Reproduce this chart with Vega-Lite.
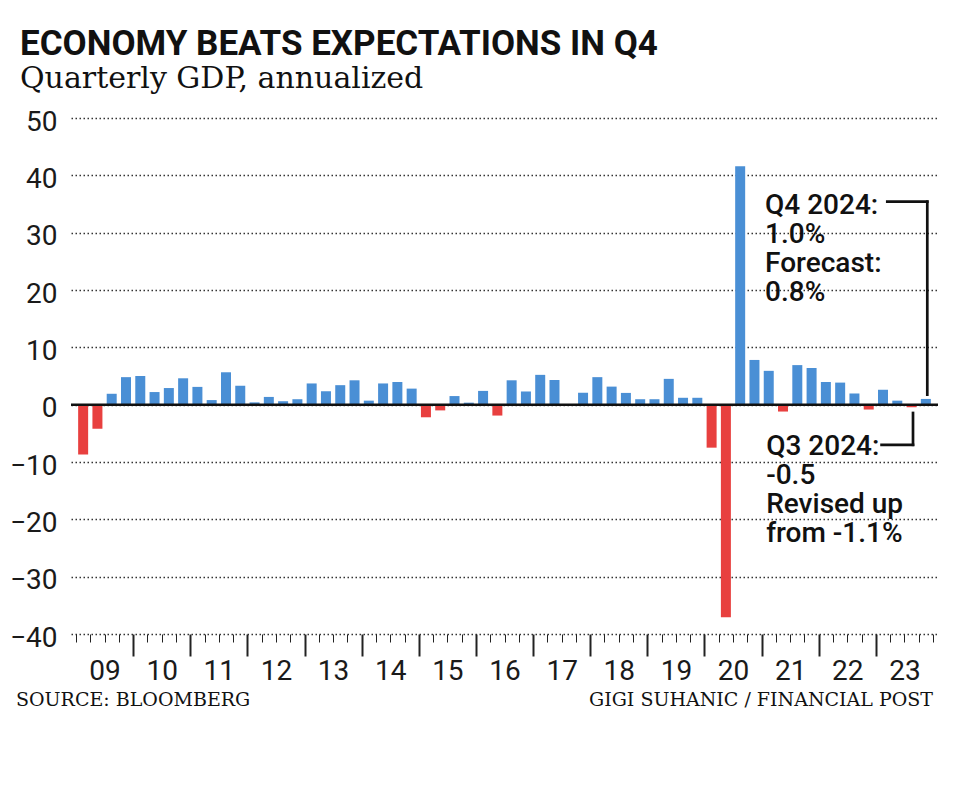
{
  "$schema": "https://vega.github.io/schema/vega-lite/v6.json",
  "width": 867,
  "height": 516,
  "autosize": {"type": "none"},
  "padding": {"left": 71, "top": 118, "right": 22, "bottom": 168},
  "background": "white",
  "title": {
    "text": "ECONOMY BEATS EXPECTATIONS IN Q4",
    "subtitle": "Quarterly GDP, annualized",
    "anchor": "start",
    "frame": "group",
    "dx": -51,
    "offset": 14,
    "font": "Roboto",
    "fontSize": 35,
    "fontWeight": "bold",
    "color": "#111111",
    "subtitleFont": "DejaVu Serif",
    "subtitleFontSize": 30,
    "subtitleColor": "#111111",
    "subtitlePadding": 2
  },
  "config": {"view": {"stroke": null}},
  "resolve": {"axis": {"x": "independent", "y": "independent"}},
  "datasets": {
    "gdp": [
      {"year": 2009, "q": 1, "t": 2009.125, "gdp": -8.7},
      {"year": 2009, "q": 2, "t": 2009.375, "gdp": -4.2},
      {"year": 2009, "q": 3, "t": 2009.625, "gdp": 1.9},
      {"year": 2009, "q": 4, "t": 2009.875, "gdp": 4.8},
      {"year": 2010, "q": 1, "t": 2010.125, "gdp": 5.0},
      {"year": 2010, "q": 2, "t": 2010.375, "gdp": 2.2},
      {"year": 2010, "q": 3, "t": 2010.625, "gdp": 2.9},
      {"year": 2010, "q": 4, "t": 2010.875, "gdp": 4.6},
      {"year": 2011, "q": 1, "t": 2011.125, "gdp": 3.1},
      {"year": 2011, "q": 2, "t": 2011.375, "gdp": 0.8},
      {"year": 2011, "q": 3, "t": 2011.625, "gdp": 5.65},
      {"year": 2011, "q": 4, "t": 2011.875, "gdp": 3.3},
      {"year": 2012, "q": 1, "t": 2012.125, "gdp": 0.4},
      {"year": 2012, "q": 2, "t": 2012.375, "gdp": 1.35},
      {"year": 2012, "q": 3, "t": 2012.625, "gdp": 0.6},
      {"year": 2012, "q": 4, "t": 2012.875, "gdp": 0.95},
      {"year": 2013, "q": 1, "t": 2013.125, "gdp": 3.7},
      {"year": 2013, "q": 2, "t": 2013.375, "gdp": 2.35},
      {"year": 2013, "q": 3, "t": 2013.625, "gdp": 3.4},
      {"year": 2013, "q": 4, "t": 2013.875, "gdp": 4.25},
      {"year": 2014, "q": 1, "t": 2014.125, "gdp": 0.7},
      {"year": 2014, "q": 2, "t": 2014.375, "gdp": 3.7},
      {"year": 2014, "q": 3, "t": 2014.625, "gdp": 3.95},
      {"year": 2014, "q": 4, "t": 2014.875, "gdp": 2.8},
      {"year": 2015, "q": 1, "t": 2015.125, "gdp": -2.2},
      {"year": 2015, "q": 2, "t": 2015.375, "gdp": -1.0},
      {"year": 2015, "q": 3, "t": 2015.625, "gdp": 1.5},
      {"year": 2015, "q": 4, "t": 2015.875, "gdp": 0.35},
      {"year": 2016, "q": 1, "t": 2016.125, "gdp": 2.4},
      {"year": 2016, "q": 2, "t": 2016.375, "gdp": -1.9},
      {"year": 2016, "q": 3, "t": 2016.625, "gdp": 4.25},
      {"year": 2016, "q": 4, "t": 2016.875, "gdp": 2.3},
      {"year": 2017, "q": 1, "t": 2017.125, "gdp": 5.2},
      {"year": 2017, "q": 2, "t": 2017.375, "gdp": 4.3},
      {"year": 2017, "q": 3, "t": 2017.625, "gdp": 0.1},
      {"year": 2017, "q": 4, "t": 2017.875, "gdp": 2.1},
      {"year": 2018, "q": 1, "t": 2018.125, "gdp": 4.8},
      {"year": 2018, "q": 2, "t": 2018.375, "gdp": 3.15},
      {"year": 2018, "q": 3, "t": 2018.625, "gdp": 2.05},
      {"year": 2018, "q": 4, "t": 2018.875, "gdp": 0.95},
      {"year": 2019, "q": 1, "t": 2019.125, "gdp": 0.95},
      {"year": 2019, "q": 2, "t": 2019.375, "gdp": 4.5},
      {"year": 2019, "q": 3, "t": 2019.625, "gdp": 1.2},
      {"year": 2019, "q": 4, "t": 2019.875, "gdp": 1.2},
      {"year": 2020, "q": 1, "t": 2020.125, "gdp": -7.5},
      {"year": 2020, "q": 2, "t": 2020.375, "gdp": -37.1},
      {"year": 2020, "q": 3, "t": 2020.625, "gdp": 41.6},
      {"year": 2020, "q": 4, "t": 2020.875, "gdp": 7.8},
      {"year": 2021, "q": 1, "t": 2021.125, "gdp": 5.9},
      {"year": 2021, "q": 2, "t": 2021.375, "gdp": -1.2},
      {"year": 2021, "q": 3, "t": 2021.625, "gdp": 6.9},
      {"year": 2021, "q": 4, "t": 2021.875, "gdp": 6.4},
      {"year": 2022, "q": 1, "t": 2022.125, "gdp": 3.95},
      {"year": 2022, "q": 2, "t": 2022.375, "gdp": 3.85},
      {"year": 2022, "q": 3, "t": 2022.625, "gdp": 1.95},
      {"year": 2022, "q": 4, "t": 2022.875, "gdp": -0.85},
      {"year": 2023, "q": 1, "t": 2023.125, "gdp": 2.6},
      {"year": 2023, "q": 2, "t": 2023.375, "gdp": 0.7},
      {"year": 2023, "q": 3, "t": 2023.625, "gdp": -0.45},
      {"year": 2023, "q": 4, "t": 2023.875, "gdp": 1.0}
    ],
    "brackets": [
      {"x": 2023.2, "x2": 2023.9, "y": 35.4, "y2": 35.4},
      {"x": 2023.9, "x2": 2023.9, "y": 35.4, "y2": 1.75},
      {"x": 2023.1, "x2": 2023.65, "y": -7.0, "y2": -7.0},
      {"x": 2023.65, "x2": 2023.65, "y": -7.0, "y2": -1.45}
    ],
    "notes": [
      {"lines": ["Q4 2024:", "1.0%", "Forecast:", "0.8%"], "x": 2021.06, "y": 33.2},
      {"lines": ["Q3 2024:", "-0.5", "Revised up", "from -1.1%"], "x": 2021.08, "y": -8.7}
    ]
  },
  "layer": [
    {
      "data": {"name": "gdp"},
      "mark": {"type": "bar", "size": 10},
      "encoding": {
        "x": {
          "field": "t",
          "type": "quantitative",
          "scale": {"domain": [2009, 2024], "nice": false, "zero": false},
          "axis": {
            "title": null,
            "values": [2009, 2009.25, 2009.5, 2009.75, 2010, 2010.25, 2010.5, 2010.75, 2011, 2011.25, 2011.5, 2011.75, 2012, 2012.25, 2012.5, 2012.75, 2013, 2013.25, 2013.5, 2013.75, 2014, 2014.25, 2014.5, 2014.75, 2015, 2015.25, 2015.5, 2015.75, 2016, 2016.25, 2016.5, 2016.75, 2017, 2017.25, 2017.5, 2017.75, 2018, 2018.25, 2018.5, 2018.75, 2019, 2019.25, 2019.5, 2019.75, 2020, 2020.25, 2020.5, 2020.75, 2021, 2021.25, 2021.5, 2021.75, 2022, 2022.25, 2022.5, 2022.75, 2023, 2023.25, 2023.5, 2023.75, 2024],
            "domain": false,
            "grid": false,
            "tickSize": {"condition": {"test": "datum.value % 1 == 0 && datum.value > 2009 && datum.value < 2024", "value": 22}, "value": 8},
            "tickWidth": {"condition": {"test": "datum.value % 1 == 0 && datum.value > 2009 && datum.value < 2024", "value": 2}, "value": 1},
            "tickColor": "#222222",
            "labelExpr": "datum.value % 1 == 0.5 ? ((floor(datum.value) % 100 < 10 ? '0' : '') + (floor(datum.value) % 100)) : ''",
            "labelFont": "Roboto",
            "labelFontSize": 28,
            "labelColor": "#1a1a1a",
            "labelPadding": 15,
            "labelFlush": false,
            "labelOverlap": false,
            "labelBound": false
          }
        },
        "y": {
          "field": "gdp",
          "type": "quantitative",
          "scale": {"domain": [-40, 50], "nice": false},
          "axis": {
            "title": null,
            "values": [-40, -30, -20, -10, 0, 10, 20, 30, 40, 50],
            "domain": false,
            "ticks": false,
            "grid": true,
            "gridDash": [1.5, 2.5],
            "gridColor": "#333333",
            "gridWidth": 1.5,
            "labelFont": "Roboto",
            "labelFontSize": 28,
            "labelColor": "#1a1a1a",
            "labelPadding": 14,
            "labelOffset": 4
          }
        },
        "color": {"condition": {"test": "datum.gdp < 0", "value": "#e8403f"}, "value": "#4a8fd5"}
      }
    },
    {
      "data": {"values": [{}]},
      "mark": {"type": "rule", "color": "#111111", "strokeWidth": 2.5},
      "encoding": {"y": {"datum": 0, "type": "quantitative", "axis": null}}
    },
    {
      "data": {"name": "brackets"},
      "mark": {"type": "rule", "color": "#111111", "strokeWidth": 2.7, "strokeCap": "square"},
      "encoding": {
        "x": {"field": "x", "type": "quantitative", "axis": null},
        "x2": {"field": "x2"},
        "y": {"field": "y", "type": "quantitative", "axis": null},
        "y2": {"field": "y2"}
      }
    },
    {
      "data": {"name": "notes"},
      "mark": {"type": "text", "align": "left", "baseline": "alphabetic", "font": "Roboto", "fontSize": 28, "fontWeight": 500, "lineHeight": 29, "color": "#111111"},
      "encoding": {
        "x": {"field": "x", "type": "quantitative", "axis": null},
        "y": {"field": "y", "type": "quantitative", "axis": null},
        "text": {"field": "lines"}
      }
    },
    {
      "data": {"values": [{"text": "SOURCE: BLOOMBERG", "x": 2007.95, "y": -52.5}]},
      "mark": {"type": "text", "align": "left", "baseline": "alphabetic", "font": "DejaVu Serif", "fontSize": 19, "color": "#111111", "clip": false},
      "encoding": {
        "x": {"field": "x", "type": "quantitative", "axis": null},
        "y": {"field": "y", "type": "quantitative", "axis": null},
        "text": {"field": "text"}
      }
    },
    {
      "data": {"values": [{"text": "GIGI SUHANIC / FINANCIAL POST", "x": 2024.0, "y": -52.5}]},
      "mark": {"type": "text", "align": "right", "baseline": "alphabetic", "font": "DejaVu Serif", "fontSize": 19, "color": "#111111", "clip": false},
      "encoding": {
        "x": {"field": "x", "type": "quantitative", "axis": null},
        "y": {"field": "y", "type": "quantitative", "axis": null},
        "text": {"field": "text"}
      }
    }
  ]
}
